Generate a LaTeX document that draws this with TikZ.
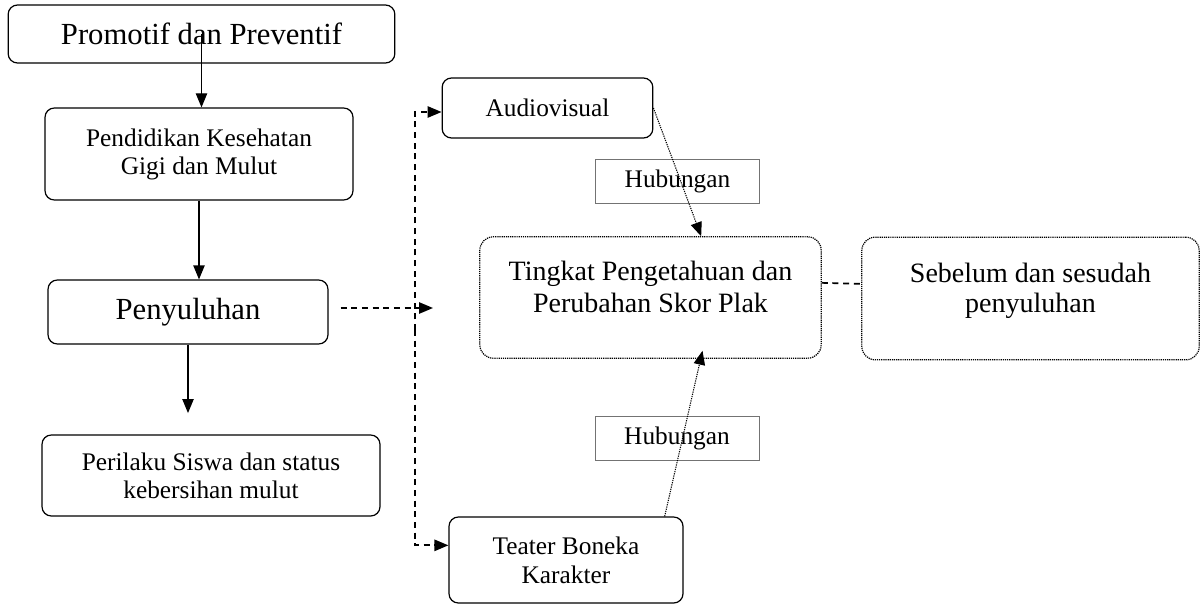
\documentclass[tikz,border=0pt]{standalone}
\usepackage{fontspec}
\setmainfont{Liberation Serif}
\usetikzlibrary{arrows.meta}

\begin{document}
\begin{tikzpicture}[x=0.75pt,y=0.75pt,yscale=-1,xscale=1,
    kotak/.style={draw,line width=0.9pt,rounded corners=7pt,align=center,inner sep=0pt},
    kotaktitik/.style={draw,line width=0.9pt,dash pattern=on 0.9pt off 0.7pt,rounded corners=10pt,align=center,inner sep=0pt,text depth=16pt},
    kotakhub/.style={draw=black!55,line width=0.5pt,align=center,inner sep=0pt,minimum width=123pt,minimum height=33pt,font=\fontsize{19}{22}\selectfont},
    panah/.style={-{Triangle[length=10.5pt,width=8.5pt]},line width=0.9pt},
    garisputus/.style={line width=1.3pt,dash pattern=on 4.5pt off 3.5pt},
    garistitik/.style={line width=0.8pt,dash pattern=on 0.9pt off 0.8pt}]
  \useasboundingbox (0,0) rectangle (1201,606);

  % kolom kiri
  \node[kotak,minimum width=290pt,minimum height=43.5pt,font=\fontsize{23}{28}\selectfont] (promosi) at (201.5,34) {Promotif dan Preventif};
  \node[kotak,minimum width=231pt,minimum height=69pt,font=\fontsize{19}{21}\selectfont] (pendidikan) at (199,154) {Pendidikan Kesehatan\\Gigi dan Mulut};
  \node[kotak,minimum width=210pt,minimum height=48pt,font=\fontsize{23}{28}\selectfont] (penyuluhan) at (188,312) {Penyuluhan};
  \node[kotak,minimum width=253.5pt,minimum height=60.75pt,font=\fontsize{19}{21}\selectfont] (perilaku) at (211,475.5) {Perilaku Siswa dan status\\kebersihan mulut};

  % kolom tengah
  \node[kotak,minimum width=158pt,minimum height=45pt,font=\fontsize{19}{22}\selectfont] (audio) at (547.5,108) {Audiovisual};
  \node[kotak,minimum width=175.5pt,minimum height=64.5pt,font=\fontsize{19}{22}\selectfont] (teater) at (566,560) {Teater Boneka\\Karakter};
  \node[kotakhub] (hub1) at (677.5,181) {Hubungan};
  \node[kotakhub] (hub2) at (677,438) {Hubungan};

  % kolom kanan
  \node[kotaktitik,minimum width=256pt,minimum height=91pt,font=\fontsize{21}{24}\selectfont] (tingkat) at (650.5,297.5) {Tingkat Pengetahuan dan\\Perubahan Skor Plak};
  \node[kotaktitik,minimum width=253pt,minimum height=92pt,font=\fontsize{21}{23}\selectfont] (sebelum) at (1030.5,298.5) {Sebelum dan sesudah\\penyuluhan};

  \coordinate (ujung) at (433,308);
  \coordinate (cabang) at (415,330);

  % panah
  \draw[panah] (promosi.center) -- (promosi.center |- pendidikan.north);
  \draw[panah] (pendidikan.south) -- (pendidikan.south |- penyuluhan.north);
  \draw[panah,shorten >=16pt] (penyuluhan.south) -- (penyuluhan.south |- perilaku.north);
  \draw[panah,garisputus,shorten <=9pt] (penyuluhan.east |- ujung) -- (ujung);
  \draw[panah,garisputus] (cabang) |- ([yshift=3pt]audio.west);
  \draw[panah,garisputus] (cabang) |- ([yshift=-11pt]teater.west);
  \draw[panah,garistitik] (audio.east) -- ([xshift=38pt]tingkat.north);
  \draw[panah,garistitik] ([xshift=74pt]teater.north) -- ([xshift=39pt,yshift=-6pt]tingkat.south);
  \draw[garisputus] ([yshift=-11pt]tingkat.east) -- ([yshift=-11pt]sebelum.west);
\end{tikzpicture}
\end{document}
